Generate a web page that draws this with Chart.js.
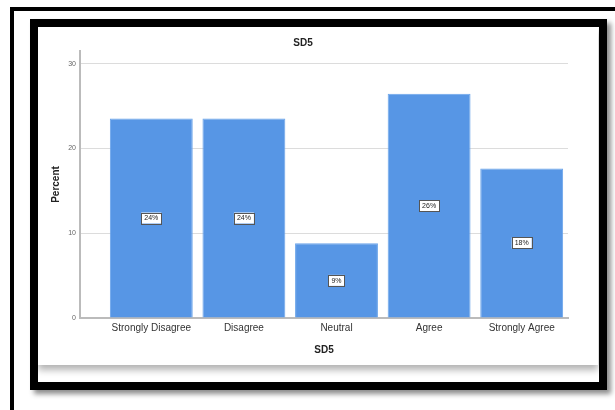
<!DOCTYPE html>
<html>
<head>
<meta charset="utf-8">
<script src="https://cdn.jsdelivr.net/npm/chart.js@4"></script>
<style>
    body { margin: 0; background: #fff; width: 615px; height: 410px; overflow: hidden; position: relative; font-family: "Liberation Sans", Arial, sans-serif; }
    #outer-line { position: absolute; left: 10px; top: 7px; width: 620px; height: 420px; border-top: 4px solid #000; border-left: 4px solid #000; }
    #frame { position: absolute; left: 30px; top: 19px; width: 561px; height: 355px; border: 8px solid #000; background: #fff; box-shadow: 4px 4px 5px rgba(0,0,0,0.45); }
    #chart-box { position: absolute; left: 0; top: 0; width: 560px; height: 338px; background: #fff; box-shadow: 0 5px 7px rgba(0,0,0,0.3); }
</style>
</head>
<body>
<div id="outer-line"></div>
<div id="frame">
    <div id="chart-box"><canvas id="sd5-chart"></canvas></div>
</div>
<script>
// SD5 responses (n = 34)
const categories = ['Strongly Disagree', 'Disagree', 'Neutral', 'Agree', 'Strongly Agree'];
const percents = [23.53, 23.53, 8.82, 26.47, 17.65];
const percentLabels = ['24%', '24%', '9%', '26%', '18%'];
const yTicks = [0, 10, 20, 30];

// Draw the small boxed % label in the middle of each bar
const boxLabels = {
    id: 'boxLabels',
    afterDatasetsDraw(chart) {
        const ctx = chart.ctx;
        const meta = chart.getDatasetMeta(0);
        ctx.save();
        ctx.font = '7px "Liberation Sans", Arial, sans-serif';
        ctx.textAlign = 'center';
        ctx.textBaseline = 'middle';
        meta.data.forEach((bar, i) => {
            const text = percentLabels[i];
            const cy = (bar.y + bar.base) / 2;
            const w = ctx.measureText(text).width + 6;
            const h = 11;
            ctx.fillStyle = '#fff';
            ctx.fillRect(bar.x - w / 2, cy - h / 2, w, h);
            ctx.strokeStyle = '#555';
            ctx.lineWidth = 1;
            ctx.strokeRect(Math.round(bar.x - w / 2) + 0.5, Math.round(cy - h / 2) + 0.5, Math.round(w), h);
            ctx.fillStyle = '#222';
            ctx.fillText(text, bar.x, cy + 0.5);
        });
        ctx.restore();
    }
};

const ctx = document.getElementById('sd5-chart').getContext('2d');
new Chart(ctx, {
    type: 'bar',
    data: {
        datasets: [{
            label: 'Percent',
            data: percents.map((v, i) => ({ x: i, y: v })),
            backgroundColor: '#5796e5',
            borderColor: '#6aa4ea',
            borderWidth: 1,
            barPercentage: 0.895,
            categoryPercentage: 1
        }]
    },
    options: {
        responsive: true,
        maintainAspectRatio: false,
        animation: false,
        layout: { padding: { left: 0, right: 30, top: 0, bottom: 0 } },
        plugins: {
            legend: { display: false },
            tooltip: { enabled: false },
            title: {
                display: true,
                text: 'SD5',
                color: '#222',
                font: { size: 10, weight: 'bold', family: '"Liberation Sans", Arial, sans-serif' },
                padding: { top: 10, bottom: 2 }
            }
        },
        scales: {
            x: {
                type: 'linear',
                offset: false,
                min: -0.77,
                max: 4.5,
                afterBuildTicks: scale => { scale.ticks = categories.map((c, i) => ({ value: i })); },
                afterFit: scale => { scale.height = 47; },
                ticks: {
                    autoSkip: false,
                    maxRotation: 0,
                    padding: 4,
                    color: '#333',
                    font: { size: 10, family: '"Liberation Sans", Arial, sans-serif' },
                    callback: value => categories[value]
                },
                grid: { display: false, drawTicks: false, offset: false },
                border: { display: true, color: '#bbb', width: 2 },
                title: {
                    display: true,
                    text: 'SD5',
                    color: '#222',
                    font: { size: 10, weight: 'bold', family: '"Liberation Sans", Arial, sans-serif' },
                    padding: { top: 0, bottom: 9 }
                }
            },
            y: {
                min: 0,
                max: 31.5,
                afterBuildTicks: scale => { scale.ticks = yTicks.map(v => ({ value: v })); },
                afterFit: scale => { scale.width = 42; },
                ticks: {
                    padding: 4,
                    color: '#666',
                    font: { size: 7, family: '"Liberation Sans", Arial, sans-serif' }
                },
                grid: { color: '#dcdcdc', drawTicks: false },
                border: { display: true, color: '#bbb', width: 2 },
                title: {
                    display: true,
                    text: 'Percent',
                    color: '#222',
                    font: { size: 10, weight: 'bold', family: '"Liberation Sans", Arial, sans-serif' },
                    padding: { top: 12, bottom: 0 }
                }
            }
        }
    },
    plugins: [boxLabels]
});
</script>
</body>
</html>
